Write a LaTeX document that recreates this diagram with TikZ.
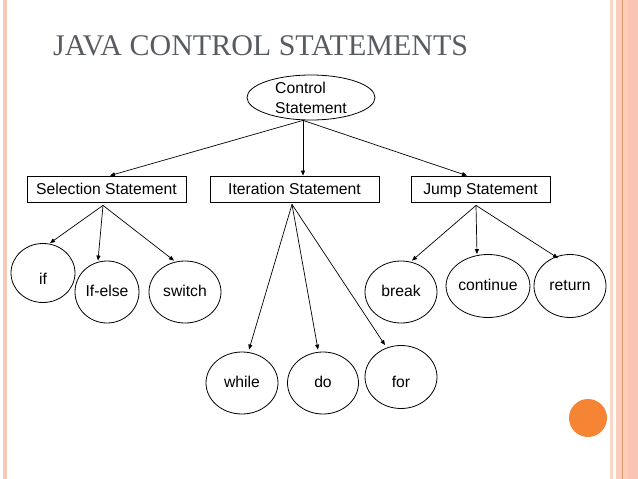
\documentclass[tikz,border=0pt]{standalone}
\usepackage{fontspec}
\setmainfont{Liberation Sans}
\newfontfamily\titlefont{Liberation Serif}
\usetikzlibrary{shapes.geometric,arrows.meta}
\definecolor{edgepink}{RGB}{246,200,184}
\definecolor{lightpink}{RGB}{250,214,200}
\definecolor{barpink}{RGB}{252,206,186}
\definecolor{darkpink}{RGB}{249,196,176}
\definecolor{barline}{RGB}{226,150,112}
\definecolor{dotorange}{RGB}{245,133,53}
\definecolor{titlegray}{RGB}{88,92,98}

\begin{document}
\begin{tikzpicture}[x=1pt, y=-1pt, font=\fontsize{15.7}{20}\selectfont,
        stmt/.style={draw, line width=0.8pt, minimum height=26pt, inner sep=0pt, text height=13pt, text depth=3pt},
        leaf/.style={ellipse, draw, line width=0.8pt, minimum width=72pt, minimum height=62pt, inner sep=0pt, text height=12.5pt, text depth=3pt},
        arr/.style={-{Triangle[length=5pt,width=4pt]}, line width=0.7pt}]
        \useasboundingbox (0,0) rectangle (638,479);
        % slide frame
        \fill[edgepink] (3,0) rectangle (7,479);
        \fill[lightpink] (610,0) rectangle (613,479);
        \fill[barpink] (616,0) rectangle (638,479);
        \fill[darkpink] (628,0) rectangle (638,479);
        \fill[barline] (622,0) rectangle (623,479);
        \fill[dotorange] (588,418) circle (19);
        \node[anchor=base west, inner sep=0pt, text=titlegray, font=\titlefont\fontsize{30}{30}\selectfont] (title) at (53,55) {JAVA CONTROL STATEMENTS};
        % tree
        \node[ellipse, draw, line width=0.8pt, minimum width=128pt, minimum height=45pt, inner sep=0pt, align=left] (ctrl) at (311,97.5) {Control\\Statement};
        \node[stmt, minimum width=159pt] (sel) at (106.5,189) {Selection Statement};
        \node[stmt, minimum width=169pt] (iter) at (294.5,189) {Iteration Statement};
        \node[stmt, minimum width=139pt] (jump) at (480.5,189) {Jump Statement};
        \node[leaf, minimum width=64pt, minimum height=59pt, text height=26pt] (if) at (43,273) {if};
        \node[leaf, minimum width=64pt] (ifelse) at (107,292) {If-else};
        \node[leaf] (switch) at (185,292) {switch};
        \node[leaf] (while) at (242,383) {while};
        \node[leaf, minimum width=71pt] (do) at (323,383) {do};
        \node[leaf, minimum height=63pt, text height=24pt] (for) at (401,377) {for};
        \node[leaf] (break) at (401,292) {break};
        \node[leaf, minimum height=63pt] (continue) at (488,286) {continue};
        \node[leaf, minimum height=63pt] (return) at (570,286) {return};
        \draw[arr] ([xshift=-8pt]ctrl.south) -- ([xshift=3.5pt]sel.north);
        \draw[arr] ([xshift=-8pt]ctrl.south) -- ([xshift=8.5pt]iter.north);
        \draw[arr] ([xshift=-8pt]ctrl.south) -- ([xshift=-13.5pt]jump.north);
        \draw[arr] ([xshift=-3.5pt,yshift=-3pt]sel.south) -- ([xshift=7pt]if.north);
        \draw[arr] ([xshift=-3.5pt,yshift=-3pt]sel.south) -- ([xshift=-9pt]ifelse.north);
        \draw[arr] ([xshift=-3.5pt,yshift=-3pt]sel.south) -- ([xshift=-11pt]switch.north);
        \draw[arr] ([xshift=-2.5pt,yshift=-2pt]iter.south) -- ([xshift=7pt,yshift=2pt]while.north);
        \draw[arr] ([xshift=-2.5pt,yshift=-2pt]iter.south) -- ([xshift=-5pt,yshift=2pt]do.north);
        \draw[arr] ([xshift=-2.5pt,yshift=-2pt]iter.south) -- ([xshift=-16pt]for.north);
        \draw[arr] ([xshift=-4.5pt,yshift=-3pt]jump.south) -- ([xshift=11pt]break.north);
        \draw[arr] ([xshift=-4.5pt,yshift=-3pt]jump.south) -- ([xshift=-11pt]continue.north);
        \draw[arr] ([xshift=-4.5pt,yshift=-3pt]jump.south) -- ([xshift=-12pt,yshift=-4pt]return.north);
\end{tikzpicture}
\end{document}
